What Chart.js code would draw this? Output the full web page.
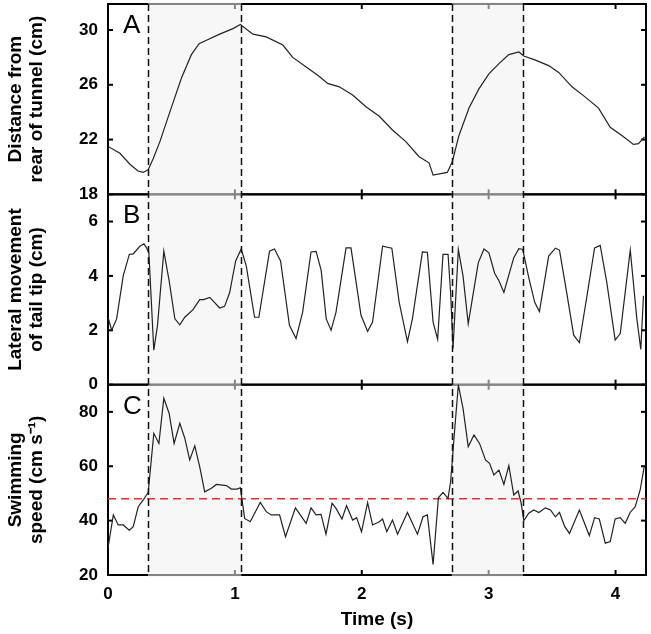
<!DOCTYPE html>
<html>
<head>
<meta charset="utf-8">
<script src="https://cdn.jsdelivr.net/npm/chart.js@4"></script>
<style>
  body { margin: 0; background: #fff; }
  #wrap { width: 651px; height: 634px; position: relative; }
</style>
</head>
<body>
<div id="wrap"><canvas id="swimChart"></canvas></div>
<script>
// Panel A: distance from rear of tunnel (cm)
const timeA = [0, 0.094, 0.173, 0.236, 0.278, 0.317, 0.356, 0.409, 0.487, 0.579, 0.657, 0.718, 0.776, 0.88, 0.985, 1.043,
  1.142, 1.247, 1.378, 1.456, 1.562, 1.666, 1.731, 1.823, 1.928, 2.033, 2.138, 2.242, 2.347, 2.452, 2.53, 2.562, 2.674,
  2.714, 2.766, 2.845, 2.923, 3.002, 3.081, 3.159, 3.238, 3.277, 3.369, 3.473, 3.552, 3.657, 3.762, 3.866, 3.958, 4.05,
  4.141, 4.181, 4.228];
const distanceA = [21.5, 21.0, 20.2, 19.7, 19.6, 19.8, 20.6, 21.85, 24.0, 26.5, 28.2, 29.0, 29.25, 29.7, 30.1, 30.4,
  29.7, 29.5, 28.9, 28.0, 27.3, 26.6, 26.1, 25.85, 25.25, 24.4, 23.7, 22.7, 21.85, 20.75, 20.3, 19.4, 19.6,
  20.4, 22.3, 24.3, 25.7, 26.8, 27.55, 28.2, 28.4, 28.1, 27.8, 27.4, 26.9, 25.85, 25.1, 24.3, 22.9, 22.3,
  21.65, 21.7, 22.2];

// Panel B: lateral movement of tail tip (cm)
const timeB = [0, 0.029, 0.068, 0.12, 0.168, 0.199, 0.251, 0.283, 0.304, 0.322, 0.361, 0.39, 0.44, 0.482, 0.527, 0.566,
  0.605, 0.67, 0.723, 0.754, 0.802, 0.88, 0.919, 0.959, 1.006, 1.05, 1.09, 1.155, 1.189, 1.273, 1.312, 1.36, 1.43,
  1.482, 1.534, 1.6, 1.64, 1.68, 1.72, 1.758, 1.797, 1.876, 1.915, 1.994, 2.046, 2.085, 2.164, 2.237, 2.295, 2.36,
  2.399, 2.478, 2.517, 2.562, 2.598, 2.64, 2.68, 2.7, 2.719, 2.761, 2.798, 2.839, 2.918, 2.963, 3.002, 3.047, 3.081,
  3.12, 3.198, 3.238, 3.269, 3.316, 3.363, 3.4, 3.473, 3.526, 3.558, 3.617, 3.67, 3.715, 3.775, 3.835, 3.879, 3.931,
  3.997, 4.037, 4.116, 4.168, 4.199, 4.22];
const tailB = [2.48, 2.0, 2.42, 4.0, 4.79, 4.81, 5.09, 5.18, 5.03, 4.85, 1.27, 2.18, 4.91, 3.82, 2.42, 2.2,
  2.48, 2.76, 3.13, 3.13, 3.21, 2.82, 2.88, 3.39, 4.55, 4.99, 4.36, 2.48, 2.48, 4.91, 4.99, 4.55, 2.18,
  1.7, 2.67, 4.88, 4.9, 4.2, 2.42, 2.0, 2.67, 5.03, 5.03, 2.55, 1.96, 2.3, 5.09, 5.02, 3.03, 1.58,
  2.42, 4.88, 4.87, 2.3, 1.67, 4.79, 4.79, 3.39, 1.33, 4.97, 4.0, 2.24, 4.48, 4.99, 4.85, 4.1, 3.82,
  3.39, 4.67, 5.0, 4.97, 3.94, 3.03, 2.69, 4.73, 5.02, 4.95, 3.33, 1.82, 1.55, 3.27, 5.03, 5.12, 3.76,
  1.64, 1.88, 4.95, 2.42, 1.3, 3.27];

// Panel C: swimming speed (cm s-1)
const timeC = [0, 0.042, 0.081, 0.12, 0.168, 0.199, 0.238, 0.278, 0.317, 0.361, 0.401, 0.44, 0.482, 0.521, 0.566, 0.605,
  0.644, 0.684, 0.723, 0.762, 0.815, 0.854, 0.933, 0.972, 1.016, 1.043, 1.077, 1.121, 1.2, 1.247, 1.286, 1.352, 1.399,
  1.477, 1.562, 1.6, 1.64, 1.679, 1.718, 1.766, 1.797, 1.844, 1.88, 1.928, 1.959, 1.998, 2.046, 2.085, 2.138, 2.164,
  2.197, 2.242, 2.282, 2.36, 2.439, 2.483, 2.517, 2.562, 2.604, 2.64, 2.68, 2.7, 2.735, 2.761, 2.798, 2.839, 2.884,
  2.928, 2.975, 3.007, 3.041, 3.081, 3.12, 3.159, 3.198, 3.232, 3.256, 3.277, 3.316, 3.356, 3.395, 3.447, 3.487,
  3.526, 3.558, 3.6, 3.637, 3.715, 3.793, 3.835, 3.872, 3.919, 3.958, 3.997, 4.037, 4.076, 4.115, 4.155, 4.194, 4.228];
const speedC = [30.0, 42.1, 38.4, 38.4, 36.5, 37.8, 45.1, 47.6, 50.4, 72.1, 68.4, 85.0, 79.4, 68.4, 75.8, 70.3,
  62.3, 67.5, 59.8, 50.6, 51.9, 53.3, 52.9, 51.6, 51.6, 52.1, 40.8, 39.6, 46.7, 43.3, 42.1, 42.1, 34.1,
  44.7, 39.0, 44.7, 42.1, 42.3, 35.0, 46.4, 44.5, 40.6, 45.5, 40.2, 41.1, 35.9, 46.6, 38.4, 39.6, 40.6,
  35.9, 40.2, 35.0, 43.0, 35.0, 41.4, 42.1, 23.9, 48.4, 50.4, 48.2, 54.3, 75.1, 89.9, 81.3, 67.2, 71.5,
  68.4, 62.3, 61.1, 56.8, 58.6, 53.3, 60.2, 49.4, 50.9, 46.4, 40.0, 42.7, 43.9, 43.0, 44.7, 43.9,
  41.4, 43.0, 37.8, 35.3, 43.9, 34.5, 41.1, 40.6, 31.7, 32.3, 40.6, 41.1, 39.0, 43.0, 45.1, 51.3, 60.4];

// tick values per panel
const ticksA = [18, 22, 26, 30];
const ticksB = [0, 2, 4, 6];
const ticksC = [20, 40, 60, 80];
const ticksTime = [0, 1, 2, 3, 4];

// threshold speed (red dashed line) and burst periods (shaded)
const thresholdSpeed = 48;
const burstStarts = [0.315, 2.71];
const burstEnds = [1.05, 3.27];
const timeRange = [0, 4.24];

const panelLetters = { yA: 'A', yB: 'B', yC: 'C' };
const FONT = '"Liberation Sans", Arial, sans-serif';

function toPoints(xs, ys) {
    return xs.map((x, i) => ({ x: x, y: ys[i] }));
}

// frame, inward ticks, shading, dashed lines, panel letters
const panelDecor = {
    id: 'panelDecor',
    beforeDatasetsDraw(chart) {
        const ctx = chart.ctx, area = chart.chartArea, xs = chart.scales.x;
        ctx.save();
        ctx.strokeStyle = '#000';
        ctx.lineWidth = 2;
        const seg = (x0, y0, x1, y1) => { ctx.beginPath(); ctx.moveTo(x0, y0); ctx.lineTo(x1, y1); ctx.stroke(); };
        ['yA', 'yB', 'yC'].forEach(id => {
            const s = chart.scales[id];
            ctx.strokeRect(area.left, s.top, area.right - area.left, s.bottom - s.top);
            s.ticks.forEach(t => {
                const py = s.getPixelForValue(t.value);
                seg(area.left, py, area.left + 5, py);
                seg(area.right, py, area.right - 5, py);
            });
            xs.ticks.forEach(t => {
                const px = xs.getPixelForValue(t.value);
                seg(px, s.top, px, s.top + 5);
                seg(px, s.bottom, px, s.bottom - 5);
            });
        });
        ctx.fillStyle = 'rgba(240,240,240,0.55)';
        burstStarts.forEach((b, i) => {
            const x0 = xs.getPixelForValue(b), x1 = xs.getPixelForValue(burstEnds[i]);
            ctx.fillRect(x0, area.top - 2, x1 - x0, area.bottom - area.top + 4);
        });
        ctx.restore();
    },
    afterDatasetsDraw(chart) {
        const ctx = chart.ctx, area = chart.chartArea, xs = chart.scales.x;
        ctx.save();
        ctx.strokeStyle = '#111';
        ctx.lineWidth = 1.5;
        ctx.setLineDash([7, 4]);
        burstStarts.concat(burstEnds).forEach(t => {
            const px = Math.round(xs.getPixelForValue(t)) + 0.5;
            ctx.beginPath(); ctx.moveTo(px, area.top); ctx.lineTo(px, area.bottom); ctx.stroke();
        });
        ctx.setLineDash([]);
        ctx.fillStyle = '#000';
        ctx.font = '26px ' + FONT;
        ctx.textBaseline = 'alphabetic';
        Object.keys(panelLetters).forEach(id => {
            const s = chart.scales[id];
            ctx.fillText(panelLetters[id], area.left + 15, s.top + 29);
        });
        ctx.restore();
    }
};

function yAxis(min, max, tickValues, title) {
    return {
        type: 'linear',
        position: 'left',
        stack: 'panels',
        stackWeight: 1,
        min: min,
        max: max,
        grid: { display: false, drawTicks: false },
        border: { display: false },
        ticks: {
            autoSkip: false,
            padding: 10,
            color: '#000',
            font: { family: FONT, size: 17, weight: 'bold' }
        },
        title: {
            display: true,
            text: title,
            color: '#000',
            padding: { top: 5, bottom: 0 },
            font: { family: FONT, size: 19, weight: 'bold', lineHeight: 1.1 }
        },
        afterBuildTicks(scale) { scale.ticks = tickValues.map(v => ({ value: v })); },
        afterFit(scale) {
            scale.width = 108;
            scale.paddingTop = 0;
            scale.paddingBottom = 0;
        }
    };
}

const ctx = document.getElementById('swimChart').getContext('2d');
const swimChart = new Chart(ctx, {
    type: 'line',
    data: {
        datasets: [
            { data: toPoints(timeA, distanceA), yAxisID: 'yA', borderColor: '#222', borderWidth: 1.2, pointRadius: 0, tension: 0 },
            { data: toPoints(timeB, tailB), yAxisID: 'yB', borderColor: '#222', borderWidth: 1.2, pointRadius: 0, tension: 0 },
            { data: toPoints(timeC, speedC), yAxisID: 'yC', borderColor: '#222', borderWidth: 1.2, pointRadius: 0, tension: 0 },
            {
                data: toPoints(timeRange, [thresholdSpeed, thresholdSpeed]), yAxisID: 'yC',
                borderColor: '#e8302c', borderWidth: 1.5, borderDash: [8, 5], pointRadius: 0
            }
        ]
    },
    options: {
        responsive: true,
        maintainAspectRatio: false,
        animation: false,
        layout: { padding: { top: 4, right: 5, bottom: 0, left: 0 } },
        plugins: { legend: { display: false }, tooltip: { enabled: false } },
        scales: {
            x: {
                type: 'linear',
                min: timeRange[0],
                max: timeRange[1],
                grid: { display: false, drawTicks: false },
                border: { display: false },
                ticks: {
                    autoSkip: false,
                    padding: 9,
                    color: '#000',
                    font: { family: FONT, size: 17, weight: 'bold' }
                },
                title: {
                    display: true,
                    text: 'Time (s)',
                    color: '#000',
                    padding: { top: 0, bottom: 3 },
                    font: { family: FONT, size: 19, weight: 'bold' }
                },
                afterBuildTicks(scale) { scale.ticks = ticksTime.map(v => ({ value: v })); },
                afterFit(scale) {
                    scale.height = 59;
                    scale.paddingLeft = 0;
                    scale.paddingRight = 0;
                }
            },
            yC: yAxis(20, 90, ticksC, ['Swimming', 'speed (cm s\u207B\u00B9)']),
            yB: yAxis(0, 7, ticksB, ['Lateral movement', 'of tail tip (cm)']),
            yA: yAxis(18, 31.9, ticksA, ['Distance from', 'rear of tunnel (cm)'])
        }
    },
    plugins: [panelDecor]
});
</script>
</body>
</html>
